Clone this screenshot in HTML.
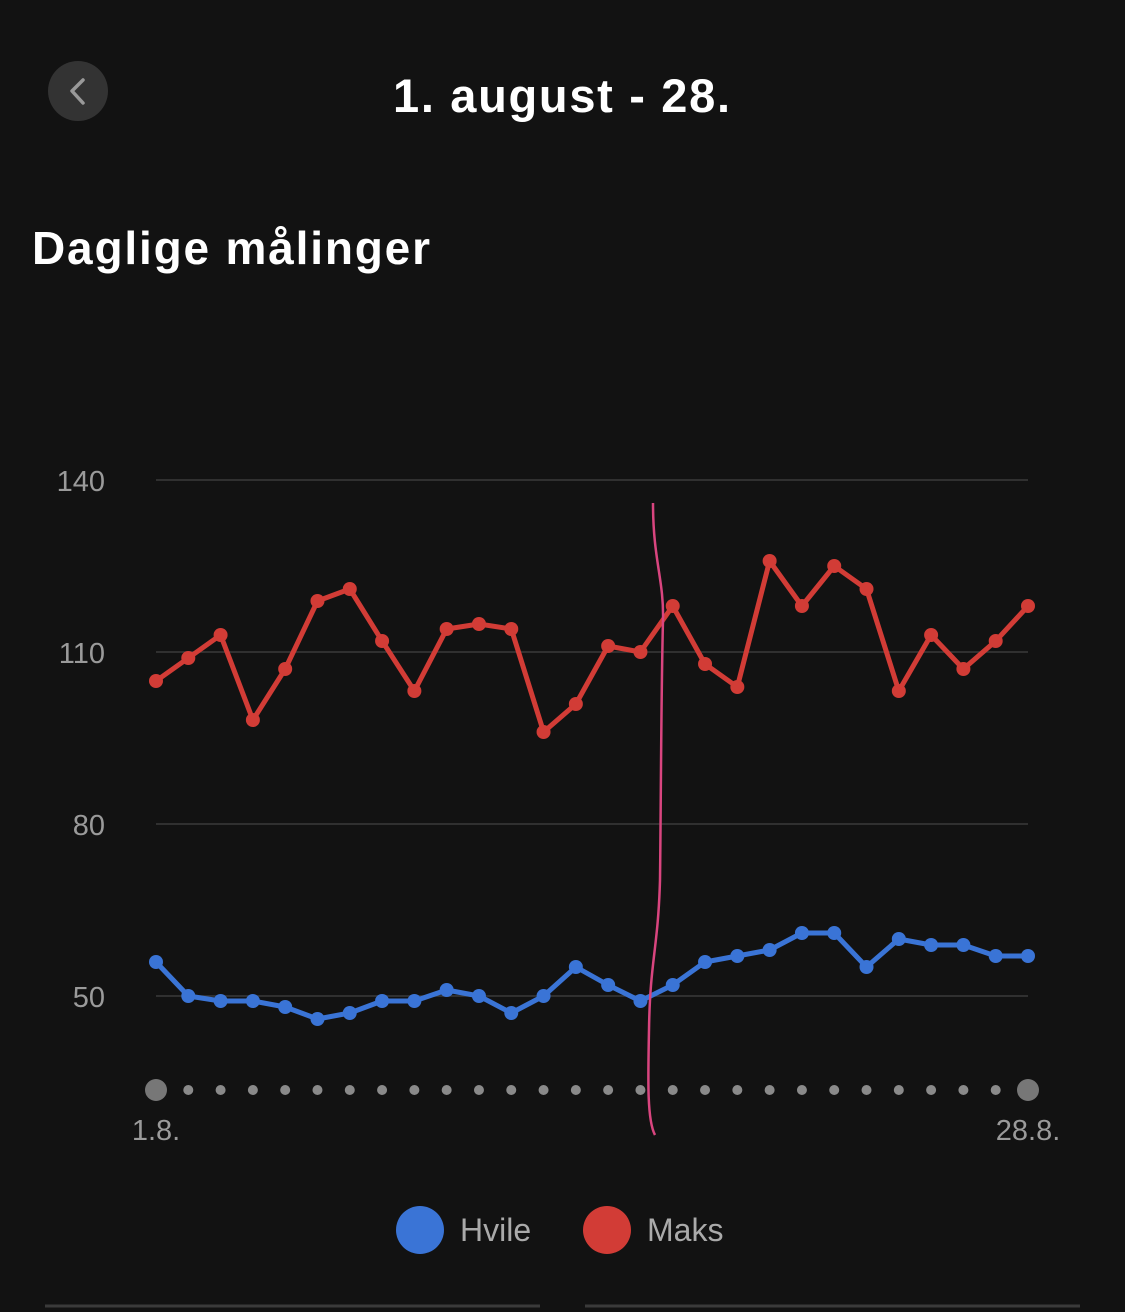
<!DOCTYPE html>
<html><head><meta charset="utf-8"><style>
html,body{margin:0;padding:0;background:#121212;width:1125px;height:1312px;overflow:hidden;font-family:"Liberation Sans",sans-serif}
</style></head><body>
<svg id="s" width="1125" height="1312" xmlns="http://www.w3.org/2000/svg" style="position:absolute;left:0;top:0">
<rect width="1125" height="1312" fill="#121212"/>
<circle cx="78" cy="91" r="30" fill="#333"/>
<polyline points="83,80 72,91 83,103" fill="none" stroke="#999" stroke-width="3.5" stroke-linecap="round" stroke-linejoin="round"/>
<text x="393" y="112" textLength="337" lengthAdjust="spacing" fill="#fff" font-size="47" font-weight="bold" font-family="Liberation Sans, sans-serif">1. august - 28.</text>
<text x="32" y="264" textLength="398" lengthAdjust="spacing" fill="#fff" font-size="46" font-weight="bold" font-family="Liberation Sans, sans-serif">Daglige målinger</text>
<g stroke="#3a3a3a" stroke-width="1.5">
<line x1="156" y1="480" x2="1028" y2="480"/><line x1="156" y1="652" x2="1028" y2="652"/>
<line x1="156" y1="824" x2="1028" y2="824"/><line x1="156" y1="996" x2="1028" y2="996"/>
</g>
<g fill="#9a9a9a" font-size="29" text-anchor="end" font-family="Liberation Sans, sans-serif">
<text x="105" y="491">140</text><text x="105" y="663">110</text><text x="105" y="835">80</text><text x="105" y="1007">50</text>
</g>
<g id="g"></g>
<path d="M653,503 C653,560 664,580 663,620 C661,700 661,800 660,880 C658,950 650,960 649,1030 C648,1080 647,1120 655,1135" fill="none" stroke="#d9457f" stroke-width="2.5"/>
<g fill="#9a9a9a" font-size="29" text-anchor="middle" font-family="Liberation Sans, sans-serif">
<text x="156" y="1140">1.8.</text><text x="1028" y="1140">28.8.</text>
</g>
<circle cx="420" cy="1230" r="24" fill="#3a74d6"/>
<text x="460" y="1241" fill="#aaa" font-size="32" font-family="Liberation Sans, sans-serif">Hvile</text>
<circle cx="607" cy="1230" r="24" fill="#d23c36"/>
<text x="647" y="1241" fill="#aaa" font-size="32" font-family="Liberation Sans, sans-serif">Maks</text>
<line x1="45" y1="1306" x2="540" y2="1306" stroke="#3a3a3a" stroke-width="3"/>
<line x1="585" y1="1306" x2="1080" y2="1306" stroke="#3a3a3a" stroke-width="3"/>
</svg>
<script>
var red=[681,658,635,720,669,601,589,641,691,629,624,629,732,704,646,652,606,664,687,561,606,566,589,691,635,669,641,606];
var blue=[962,996,1001,1001,1007,1019,1013,1001,1001,990,996,1013,996,967,985,1001,985,962,956,950,933,933,967,939,945,945,956,956];
var g=document.getElementById('g'),NS="http://www.w3.org/2000/svg";
function X(i){return 156+i*872/27;}
function el(t,a){var e=document.createElementNS(NS,t);for(var k in a)e.setAttribute(k,a[k]);g.appendChild(e);}
for(var i=0;i<28;i++){
 var big=(i==0||i==27);
 el('circle',{cx:X(i),cy:1090,r:big?11:5,fill:big?'#777':'#8a8a8a'});
}
[[red,'#d23c36'],[blue,'#3a74d6']].forEach(function(s){
 var p=s[0].map(function(y,i){return X(i).toFixed(1)+','+y;}).join(' ');
 el('polyline',{points:p,fill:'none',stroke:s[1],'stroke-width':5,'stroke-linejoin':'round'});
 s[0].forEach(function(y,i){el('circle',{cx:X(i),cy:y,r:7,fill:s[1]});});
});
</script>
</body></html>
